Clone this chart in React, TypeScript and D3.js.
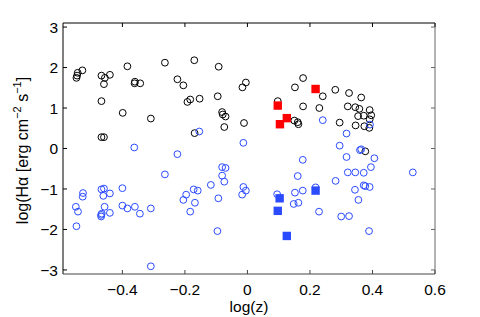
import * as d3 from 'd3'

// log(z), log(Halpha)
const blackCircles: [number, number][] = [
  [-0.547, 1.745], [-0.545, 1.8], [-0.543, 1.87], [-0.528, 1.93],
  [-0.467, 1.8], [-0.456, 1.745], [-0.44, 1.82], [-0.459, 1.59],
  [-0.384, 2.03], [-0.36, 1.65], [-0.361, 1.61], [-0.343, 1.61],
  [-0.264, 2.12], [-0.224, 1.71], [-0.205, 1.56], [-0.467, 1.17],
  [-0.399, 0.88], [-0.309, 0.74], [-0.467, 0.28], [-0.459, 0.28],
  [-0.17, 2.18], [-0.092, 2.02], [-0.192, 1.15], [-0.183, 1.21],
  [-0.153, 1.23], [-0.095, 1.29], [-0.016, 1.51], [-0.005, 1.63],
  [-0.081, 0.9], [-0.079, 0.84], [-0.07, 0.79], [-0.074, 0.53],
  [-0.011, 0.63], [-0.169, 0.38], [0.097, 1.17], [0.152, 1.51],
  [0.178, 1.74], [0.178, 1.04], [0.15, 0.69], [0.161, 0.65],
  [0.163, 0.6], [0.241, 1.29], [0.281, 1.45], [0.325, 1.37],
  [0.364, 1.26], [0.23, 1.0], [0.321, 1.04], [0.345, 1.02],
  [0.358, 0.98], [0.391, 0.95], [0.354, 0.8], [0.372, 0.81],
  [0.396, 0.82], [0.391, 0.72], [0.295, 0.64], [0.346, 0.57],
  [0.374, 0.55], [0.39, 0.51], [0.377, -0.07],
]

const blueCircles: [number, number][] = [
  [-0.362, 0.025], [-0.224, -0.14], [-0.154, 0.42], [-0.013, 0.14],
  [0.241, 0.7], [0.392, 0.59], [0.317, 0.37], [0.295, 0.07],
  [0.36, -0.04], [0.364, -0.02], [0.317, -0.21], [0.406, -0.24],
  [-0.264, -0.64], [-0.196, -1.14], [-0.205, -1.27], [-0.526, -1.1],
  [-0.527, -1.19], [-0.467, -1.01], [-0.459, -0.99], [-0.461, -1.17],
  [-0.44, -1.11], [-0.4, -0.98], [-0.549, -1.44], [-0.542, -1.56],
  [-0.457, -1.44], [-0.468, -1.64], [-0.468, -1.68], [-0.466, -1.61],
  [-0.44, -1.59], [-0.4, -1.41], [-0.384, -1.48], [-0.36, -1.44],
  [-0.344, -1.61], [-0.309, -1.48], [-0.547, -1.92], [-0.309, -2.91],
  [-0.081, -0.46], [-0.07, -0.48], [-0.081, -0.67], [-0.074, -0.82],
  [-0.117, -0.9], [-0.172, -1.01], [-0.159, -1.04], [-0.168, -1.34],
  [-0.183, -1.56], [-0.093, -1.23], [-0.013, -0.95], [-0.005, -1.04],
  [-0.017, -1.14], [-0.096, -2.04], [0.095, -1.13], [0.177, -0.28],
  [0.161, -0.68], [0.152, -1.09], [0.177, -1.04], [0.148, -1.37],
  [0.163, -1.34], [0.395, -0.46], [0.321, -0.59], [0.345, -0.59],
  [0.372, -0.6], [0.529, -0.59], [0.282, -0.8], [0.372, -0.91],
  [0.377, -0.93], [0.391, -0.95], [0.344, -1.02], [0.355, -1.27],
  [0.218, -0.96], [0.229, -1.56], [0.3, -1.68], [0.325, -1.67],
  [0.389, -2.04],
]

const redSquares: [number, number][] = [
  [0.097, 1.06], [0.126, 0.75], [0.104, 0.6], [0.218, 1.47],
]

const blueSquares: [number, number][] = [
  [0.103, -1.23], [0.097, -1.54], [0.126, -2.16], [0.218, -1.04],
]

const xTicks = [-0.4, -0.2, 0, 0.2, 0.4, 0.6]
const yTicks = [-3, -2, -1, 0, 1, 2, 3]

const WIDTH = 480
const HEIGHT = 317
const margin = { top: 23, right: 45, bottom: 43, left: 63 }
const FONT = '"Liberation Sans", Arial, Helvetica, sans-serif'
const BLUE = '#2b4bff'

export default function App() {
  const innerW = WIDTH - margin.left - margin.right
  const innerH = HEIGHT - margin.top - margin.bottom

  const x = d3.scaleLinear().domain([-0.59, 0.6]).range([0, innerW])
  const y = d3.scaleLinear().domain([-3.1, 3.1]).range([innerH, 0])
  const tickLen = 4
  const r = 3.4
  const sq = 8.4

  const fmt = (v: number) => (v < 0 ? '\u2212' + String(Math.abs(v)) : String(v))

  return (
    <svg
      width={WIDTH}
      height={HEIGHT}
      style={{ position: 'absolute', left: 0, top: 0, background: '#fff' }}
      fontFamily={FONT}
    >
      <rect width={WIDTH} height={HEIGHT} fill="#fff" />
      <g transform={`translate(${margin.left},${margin.top})`}>
        {/* points */}
        {blackCircles.map((d, i) => (
          <circle key={'k' + i} cx={x(d[0])} cy={y(d[1])} r={r} fill="none" stroke="#000" strokeWidth={1} />
        ))}
        {blueCircles.map((d, i) => (
          <circle key={'b' + i} cx={x(d[0])} cy={y(d[1])} r={r} fill="none" stroke={BLUE} strokeWidth={1} />
        ))}
        {redSquares.map((d, i) => (
          <rect key={'rs' + i} x={x(d[0]) - sq / 2} y={y(d[1]) - sq / 2} width={sq} height={sq} fill="#ff0000" />
        ))}
        {blueSquares.map((d, i) => (
          <rect key={'bs' + i} x={x(d[0]) - sq / 2} y={y(d[1]) - sq / 2} width={sq} height={sq} fill={BLUE} />
        ))}

        {/* frame */}
        <line x1={0} x2={innerW} y1={0} y2={0} stroke="#000" />
        <line x1={0} x2={0} y1={0} y2={innerH} stroke="#000" />
        <line x1={innerW} x2={innerW} y1={0} y2={innerH} stroke="#666" />
        <line x1={0} x2={innerW} y1={innerH} y2={innerH} stroke="#444" />

        {/* x ticks */}
        {xTicks.map(t => (
          <g key={'xt' + t}>
            <line x1={x(t)} x2={x(t)} y1={innerH} y2={innerH - tickLen} stroke="#444" />
            <line x1={x(t)} x2={x(t)} y1={0} y2={tickLen} stroke="#000" />
            <text x={x(t)} y={innerH + 21} textAnchor="middle" fontSize={15.5} fill="#000">
              {fmt(t)}
            </text>
          </g>
        ))}

        {/* y ticks */}
        {yTicks.map(t => (
          <g key={'yt' + t}>
            <line x1={0} x2={tickLen} y1={y(t)} y2={y(t)} stroke="#000" />
            <line x1={innerW} x2={innerW - tickLen} y1={y(t)} y2={y(t)} stroke="#666" />
            <text x={-5} y={y(t)} dy="0.36em" textAnchor="end" fontSize={15.5} fill="#000">
              {fmt(t)}
            </text>
          </g>
        ))}

        {/* axis labels */}
        <text x={innerW / 2} y={innerH + 38} textAnchor="middle" fontSize={15.5} fill="#000">
          log(z)
        </text>
        <text
          transform={`translate(-35,${innerH / 2 + 2}) rotate(-90)`}
          textAnchor="middle"
          fontSize={16}
          fill="#000"
        >
          log(H&#945; [erg cm
          <tspan dy={-7} fontSize={11}>{'\u22122'}</tspan>
          <tspan dy={7}> s</tspan>
          <tspan dy={-7} fontSize={11}>{'\u22121'}</tspan>
          <tspan dy={7}>]</tspan>
        </text>
      </g>
    </svg>
  )
}
